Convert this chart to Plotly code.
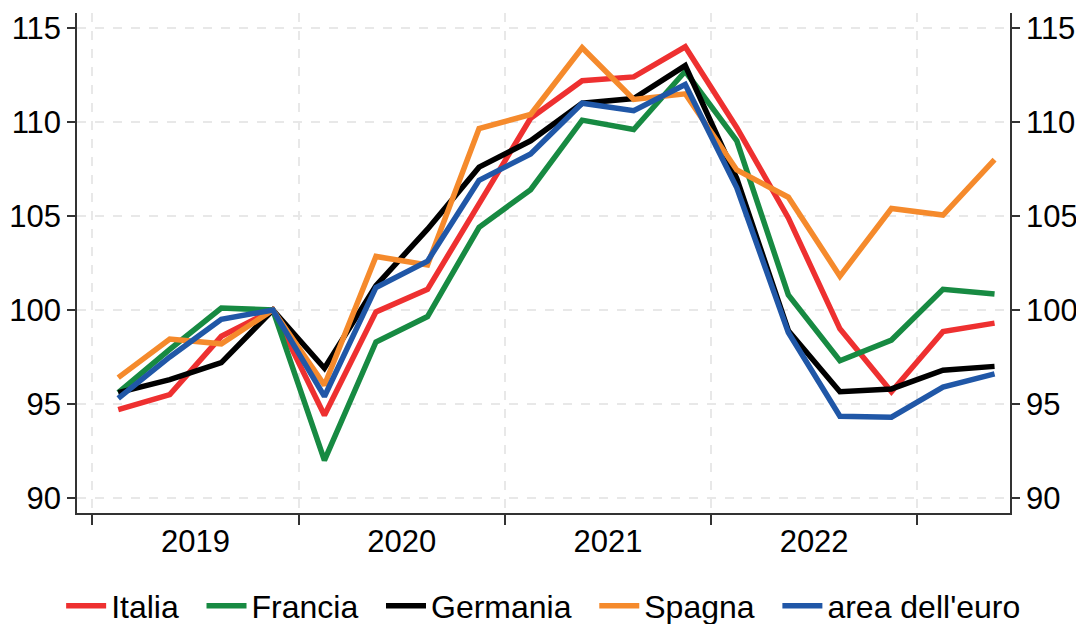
"""Indice trimestrale, 2019-2023 (base 2019Q4 = 100)."""

import plotly.graph_objects as go

# ---------------------------------------------------------------------------
# Data
# ---------------------------------------------------------------------------
quarters = [
    "2019Q1", "2019Q2", "2019Q3", "2019Q4",
    "2020Q1", "2020Q2", "2020Q3", "2020Q4",
    "2021Q1", "2021Q2", "2021Q3", "2021Q4",
    "2022Q1", "2022Q2", "2022Q3", "2022Q4",
    "2023Q1", "2023Q2",
]
years = ["2019", "2020", "2021", "2022"]

italia = [94.7, 95.5, 98.6, 100.0, 94.4, 99.9, 101.1, 105.6, 110.2, 112.2,
          112.4, 114.0, 109.7, 104.9, 99.0, 95.65, 98.85, 99.3]
francia = [95.6, 97.9, 100.1, 100.0, 92.0, 98.3, 99.65, 104.4, 106.4, 110.1,
           109.6, 112.7, 109.0, 100.8, 97.3, 98.4, 101.1, 100.85]
germania = [95.6, 96.3, 97.2, 100.0, 96.9, 101.3, 104.3, 107.6, 109.0, 111.0,
            111.25, 113.0, 107.0, 98.9, 95.65, 95.8, 96.8, 97.0]
spagna = [96.4, 98.45, 98.2, 100.0, 96.0, 102.85, 102.4, 109.65, 110.4, 113.95,
          111.2, 111.5, 107.45, 106.0, 101.8, 105.4, 105.05, 108.0]
euro = [95.3, 97.5, 99.5, 100.0, 95.4, 101.2, 102.6, 106.9, 108.3, 111.0,
        110.6, 112.0, 106.5, 98.8, 94.35, 94.3, 95.9, 96.6]

series = [
    ("Italia", italia, "#EE3030"),
    ("Francia", francia, "#178A42"),
    ("Germania", germania, "#000000"),
    ("Spagna", spagna, "#F58A2C"),
    ("area dell'euro", euro, "#2057A7"),
]

# ---------------------------------------------------------------------------
# Figure
# ---------------------------------------------------------------------------
FONT = "Liberation Sans, Arial, sans-serif"
FS = 31
GRID = "#e8e8e8"
AXIS = "#333333"
NB = "\u00a0"

x = list(range(len(quarters)))
year_mid = [4 * i + 1.5 for i in range(len(years))]
year_edges = [4 * i - 0.5 for i in range(len(years) + 1)]

fig = go.Figure()
for i, (name, vals, color) in enumerate(series):
    # pad legend labels a little to match the wider spacing of the original
    label = name + (NB * 2 if i < len(series) - 1 else "")
    fig.add_trace(go.Scatter(
        x=x, y=vals, name=label, mode="lines",
        line=dict(color=color, width=5.5),
    ))

# invisible trace to carry the right-hand axis
fig.add_trace(go.Scatter(
    x=x, y=euro, yaxis="y2", mode="lines", showlegend=False,
    line=dict(width=0), hoverinfo="skip", opacity=0,
))

yrange = [89.2, 115.8]
yaxis_common = dict(
    range=yrange, tickvals=[90, 95, 100, 105, 110, 115],
    ticks="outside", ticklen=8, tickwidth=1.5, tickcolor=AXIS,
    showline=True, linecolor=AXIS, linewidth=1.5,
    tickfont=dict(size=FS, color="#000000"), zeroline=False,
)

# page body has an 8px margin, so the figure is drawn 8px smaller
fig.update_layout(
    width=1076, height=616,
    paper_bgcolor="white", plot_bgcolor="white",
    font=dict(family=FONT, size=FS, color="#000000"),
    margin=dict(l=69, r=74, t=5, b=111, autoexpand=False),
    showlegend=True,
    legend=dict(
        orientation="h", x=-0.017, xanchor="left", y=-0.186,
        yanchor="middle", font=dict(size=32), itemwidth=40,
        tracegroupgap=0,
    ),
    xaxis=dict(
        range=[-0.8, 17.3],
        tickvals=year_mid, ticktext=years, ticks="",
        tickfont=dict(size=FS), showgrid=False, zeroline=False,
        showline=True, linecolor=AXIS, linewidth=1.5,
        minor=dict(
            tickvals=year_edges, ticks="outside", ticklen=10,
            tickwidth=1.5, tickcolor=AXIS,
            showgrid=True, gridcolor=GRID, gridwidth=2, griddash="dash",
        ),
    ),
    yaxis=dict(**yaxis_common, showgrid=True, gridcolor=GRID,
               gridwidth=2, griddash="dash"),
    yaxis2=dict(**yaxis_common, overlaying="y", side="right",
                showgrid=False),
)

fig.write_html("out.html")
